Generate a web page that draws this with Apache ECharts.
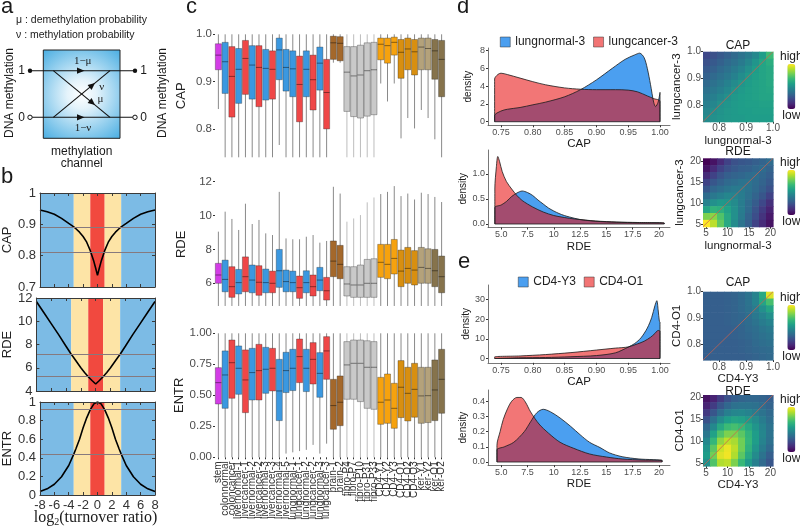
<!DOCTYPE html>
<html><head><meta charset="utf-8">
<script src="https://cdn.jsdelivr.net/npm/echarts@6.0.0/dist/echarts.min.js"></script>
<style>html,body{margin:0;padding:0;background:#fff;}#chart{width:800px;height:526px;}</style>
</head><body><div id="chart"></div>
<script>
// ================= DATA =================
// ---- panel b ----
const turnoverX = [-8,-7,-6,-5,-4,-3.3,-3,-2.5,-2,-1.5,-1,-0.5,-0.25,0,0.25,0.5,1,1.5,2,2.5,3,3.3,4,5,6,7,8];
const capCurve  = [0.946,0.940,0.932,0.919,0.903,0.892,0.886,0.875,0.861,0.843,0.816,0.781,0.760,0.737,0.760,0.781,0.816,0.843,0.861,0.875,0.886,0.892,0.903,0.919,0.932,0.940,0.946];
const rdeCurve  = [11.7,10.75,9.8,8.85,7.85,7.16,6.9,6.45,6.0,5.6,5.23,4.9,4.75,4.6,4.75,4.9,5.23,5.6,6.0,6.45,6.9,7.16,7.85,8.85,9.8,10.75,11.7];
const entrCurve = [0.037,0.066,0.116,0.196,0.317,0.44,0.497,0.6,0.722,0.83,0.918,0.98,0.995,1.0,0.995,0.98,0.918,0.83,0.722,0.6,0.497,0.44,0.317,0.196,0.116,0.066,0.037];
const bandFrom = [-8,-3.3,-1,1,3.3];
const bandTo   = [-3.3,-1,1,3.3,8];
const bandKind = ['low','mid','high','mid','low'];
const capRefs  = [0.892,0.81];
const rdeRefs  = [7.16,5.23];
const entrRefs = [0.92,0.438];

// ---- panel c ----
const cNames = ['stem','colonnormal','coloncancer','livernormal-1','livercancer-1','livernormal-2','livercancer-2','livernormal-3','livercancer-3','livernormal-4','livernormal-5','lungnormal-1','lungcancer-1','lungnormal-2','lungcancer-2','lungnormal-3','lungcancer-3','brain-1','brain-2','fibro-P4','fibro-P7','fibro-P10','fibro-P31','fibro-P33','CD4-Y1','CD4-Y2','CD4-Y3','CD4-O1','CD4-O2','CD4-O3','ker-Y1','ker-Y2','ker-O1','ker-O2'];
const cGroups = ['stem','normal','cancer','normal','cancer','normal','cancer','normal','cancer','normal','normal','normal','cancer','normal','cancer','normal','cancer','brain','brain','fibro','fibro','fibro','fibro','fibro','cd4y','cd4y','cd4y','cd4o','cd4o','cd4o','kery','kery','kero','kero'];
const capLow  = [0.842,0.74,0.74,0.74,0.74,0.74,0.74,0.74,0.74,0.766,0.74,0.74,0.74,0.74,0.74,0.74,0.74,0.94,0.94,0.74,0.74,0.74,0.74,0.74,0.896,0.858,0.896,0.780,0.823,0.801,0.840,0.823,0.778,0.74];
const capQ1   = [0.925,0.875,0.825,0.854,0.873,0.863,0.847,0.861,0.863,0.904,0.880,0.868,0.815,0.868,0.840,0.882,0.800,0.947,0.944,0.837,0.826,0.823,0.827,0.830,0.946,0.939,0.956,0.907,0.925,0.914,0.925,0.925,0.905,0.868];
const capMed  = [0.956,0.942,0.911,0.926,0.949,0.935,0.930,0.928,0.926,0.967,0.930,0.927,0.894,0.926,0.904,0.939,0.877,0.982,0.981,0.920,0.912,0.914,0.923,0.925,0.979,0.976,0.983,0.962,0.969,0.963,0.973,0.970,0.965,0.947];
const capQ3   = [0.980,0.983,0.974,0.970,0.987,0.976,0.976,0.968,0.965,0.992,0.968,0.965,0.954,0.965,0.956,0.973,0.947,0.996,0.995,0.974,0.974,0.977,0.982,0.983,0.992,0.992,0.994,0.989,0.992,0.989,0.992,0.992,0.989,0.987];
const capHigh = [1,1,1,1,1,1,1,1,1,1,1,1,1,1,1,1,1,1,1,1,1,1,1,1,1,1,1,1,1,1,1,1,1,1];
const rdeLow  = [4.66,4.66,4.66,4.66,4.66,4.66,4.66,4.66,4.66,4.66,4.66,4.66,4.66,4.66,4.66,4.66,4.66,4.66,4.66,4.66,4.66,4.66,4.66,4.66,4.66,4.66,4.66,4.66,4.66,4.66,4.66,4.66,4.66,4.66];
const rdeQ1   = [6.0,5.5,5.17,5.37,5.5,5.44,5.29,5.44,5.44,5.76,5.5,5.5,5.11,5.44,5.25,5.56,5.01,6.39,6.27,5.25,5.17,5.17,5.17,5.17,6.35,6.27,6.55,5.8,6.0,5.9,6.0,6.0,5.8,5.44];
const rdeMed  = [6.49,6.23,5.8,6.04,6.39,6.19,6.06,6.04,6.0,6.74,6.1,6.04,5.74,6.04,5.8,6.19,5.56,7.31,7.12,5.96,5.9,5.9,6.0,6.0,7.24,7.12,7.47,6.72,6.88,6.78,6.94,6.88,6.74,6.39];
const rdeQ3   = [7.18,7.37,6.98,6.82,7.56,7.08,7.04,6.84,6.72,8.0,6.78,6.72,6.43,6.74,6.49,6.94,6.35,8.5,8.24,6.98,6.98,7.08,7.41,7.45,8.3,8.3,8.59,7.96,8.12,7.93,8.12,8.04,8.0,7.61];
const rdeHigh = [9.05,10.23,9.8,9.15,10.7,9.5,9.74,8.95,8.85,11.4,8.65,8.6,8.6,8.75,8.85,8.4,8.5,11.7,11.3,9.64,9.83,10.03,10.78,11.07,11.27,11.4,11.74,11.15,11.3,10.95,11.35,11.27,11.1,10.8];
const entrLow  = [0,0,0,0,0,0,0,0,0,0,0.03,0.04,0.05,0.06,0.1,0.03,0.11,0,0,0,0,0,0,0,0,0,0,0,0,0,0,0,0,0];
const entrQ1   = [0.430,0.395,0.476,0.508,0.360,0.462,0.462,0.516,0.535,0.296,0.522,0.538,0.602,0.530,0.591,0.484,0.629,0.226,0.255,0.468,0.468,0.449,0.395,0.387,0.266,0.274,0.234,0.320,0.293,0.323,0.274,0.280,0.296,0.355];
const entrMed  = [0.602,0.664,0.763,0.718,0.624,0.683,0.699,0.710,0.718,0.535,0.699,0.718,0.812,0.718,0.790,0.677,0.858,0.417,0.444,0.745,0.758,0.758,0.726,0.726,0.444,0.462,0.395,0.565,0.516,0.548,0.495,0.497,0.543,0.629];
const entrQ3   = [0.723,0.858,0.946,0.898,0.866,0.879,0.911,0.887,0.879,0.790,0.847,0.871,0.954,0.871,0.925,0.844,0.973,0.629,0.656,0.933,0.946,0.946,0.940,0.933,0.645,0.672,0.597,0.780,0.726,0.758,0.726,0.726,0.785,0.871];
const entrHigh = [1,1,1,1,1,1,1,1,1,1,1,1,1,1,1,1,1,1,1,1,1,1,1,1,1,1,1,1,1,1,1,1,1,1];

// ---- panel d: densities ----
const dCapNormal = [[0.74,0],[0.74,0.7],[0.75,1.2],[0.76,1.4],[0.78,1.6],[0.80,1.9],[0.82,2.2],[0.85,2.8],[0.875,3.6],[0.90,4.7],[0.925,6.0],[0.945,7.0],[0.96,7.5],[0.968,7.7],[0.975,7.2],[0.98,6.0],[0.985,4.2],[0.99,2.2],[0.993,1.7],[0.997,2.2],[1.0,3.3],[1.0,0]];
const dCapCancer = [[0.74,0],[0.74,4.8],[0.745,5.3],[0.75,5.45],[0.76,5.3],[0.78,4.9],[0.80,4.5],[0.82,4.15],[0.85,3.8],[0.875,3.65],[0.90,3.6],[0.93,3.6],[0.95,3.55],[0.965,3.35],[0.98,2.9],[0.99,2.6],[1.0,2.3],[1.0,0]];
const dRdeNormal = [[4.4,0],[4.4,0.33],[5.0,0.38],[5.5,0.45],[6.0,0.55],[6.5,0.62],[7.0,0.66],[7.5,0.63],[8.0,0.57],[8.5,0.48],[9.0,0.4],[9.5,0.32],[10.0,0.26],[10.5,0.21],[11.0,0.17],[11.5,0.14],[12.5,0.09],[14.0,0.055],[16.0,0.035],[18.0,0.025],[20.5,0.02],[20.5,0]];
const dRdeCancer = [[4.4,0],[4.4,0.7],[4.55,1.15],[4.68,1.35],[4.85,1.25],[5.1,1.05],[5.5,0.85],[6.0,0.7],[6.5,0.57],[7.0,0.47],[8.0,0.34],[9.0,0.24],[10.0,0.17],[11.0,0.13],[12.0,0.1],[14.0,0.06],[16.0,0.04],[18.0,0.03],[20.5,0.02],[20.5,0]];
// ---- panel e: densities ----
const eCapY3 = [[0.74,0],[0.74,0.3],[0.78,0.35],[0.82,0.5],[0.86,0.9],[0.90,1.5],[0.93,2.9],[0.95,5.8],[0.96,7.6],[0.97,10.5],[0.98,15.5],[0.987,21],[0.992,27],[0.995,29.5],[0.997,25],[0.999,19],[1.0,18.5],[1.0,0]];
const eCapO1 = [[0.74,0],[0.74,0.8],[0.78,1.3],[0.82,2.0],[0.86,3.0],[0.90,4.3],[0.93,5.3],[0.95,5.9],[0.965,7.5],[0.975,8.8],[0.985,10.8],[0.992,12.8],[0.996,14.2],[0.998,14.3],[1.0,13.8],[1.0,0]];
const eRdeY3 = [[4.6,0],[4.6,0.08],[5.3,0.1],[6.2,0.13],[7.2,0.2],[7.8,0.265],[8.4,0.325],[9.0,0.347],[9.7,0.33],[10.6,0.29],[11.6,0.235],[12.5,0.18],[13.4,0.13],[14.4,0.095],[15.3,0.06],[16.5,0.035],[18.1,0.02],[20.3,0.01],[20.3,0]];
const eRdeO1 = [[4.6,0],[4.6,0.11],[4.9,0.2],[5.2,0.28],[5.6,0.35],[6.0,0.4],[6.5,0.425],[6.9,0.425],[7.3,0.395],[7.8,0.33],[8.6,0.25],[9.5,0.19],[10.6,0.13],[11.9,0.09],[13.4,0.053],[15.0,0.033],[16.5,0.02],[18.5,0.013],[20.3,0.01],[20.3,0]];

// ---- heatmaps (rows: top = high y, columns: low x -> high x; relative density level 0..1) ----
const capBins = [0.753,0.779,0.805,0.831,0.857,0.883,0.909,0.935,0.961,0.987];
const rdeBins = [5.115,6.745,8.375,10.005,11.635,13.265,14.895,16.525,18.155,19.785];
const dCapHeat = [
 [0.22,0.25,0.28,0.31,0.34,0.38,0.42,0.47,0.55,0.68],
 [0.25,0.28,0.31,0.34,0.37,0.41,0.46,0.52,0.58,0.62],
 [0.28,0.31,0.34,0.37,0.41,0.45,0.50,0.55,0.58,0.60],
 [0.31,0.34,0.37,0.40,0.44,0.49,0.53,0.56,0.58,0.60],
 [0.34,0.37,0.40,0.44,0.48,0.52,0.55,0.57,0.58,0.60],
 [0.37,0.40,0.43,0.47,0.51,0.54,0.56,0.57,0.58,0.59],
 [0.40,0.43,0.47,0.50,0.53,0.55,0.56,0.57,0.58,0.58],
 [0.43,0.46,0.50,0.52,0.54,0.55,0.56,0.56,0.57,0.57],
 [0.46,0.49,0.51,0.53,0.54,0.55,0.55,0.56,0.56,0.56],
 [0.48,0.50,0.52,0.53,0.54,0.54,0.55,0.55,0.55,0.55]];
const dRdeHeat = [
 [0.00,0.05,0.12,0.20,0.25,0.27,0.28,0.30,0.32,0.35],
 [0.05,0.12,0.20,0.25,0.28,0.30,0.31,0.33,0.35,0.32],
 [0.12,0.20,0.26,0.30,0.32,0.33,0.35,0.36,0.33,0.30],
 [0.20,0.27,0.31,0.34,0.36,0.38,0.38,0.35,0.32,0.28],
 [0.27,0.33,0.36,0.39,0.41,0.41,0.38,0.34,0.30,0.25],
 [0.35,0.40,0.43,0.46,0.45,0.42,0.37,0.32,0.27,0.20],
 [0.45,0.50,0.53,0.52,0.48,0.42,0.35,0.29,0.22,0.14],
 [0.58,0.65,0.63,0.57,0.50,0.42,0.34,0.26,0.18,0.10],
 [0.80,0.82,0.72,0.60,0.50,0.41,0.32,0.24,0.15,0.07],
 [1.00,0.90,0.75,0.60,0.48,0.38,0.30,0.20,0.12,0.05]];
const eCapHeat = [
 [0.30,0.30,0.30,0.31,0.32,0.34,0.38,0.45,0.60,0.95],
 [0.30,0.30,0.30,0.31,0.32,0.34,0.38,0.45,0.58,0.70],
 [0.30,0.30,0.30,0.31,0.32,0.34,0.37,0.42,0.50,0.58],
 [0.30,0.30,0.30,0.31,0.32,0.33,0.36,0.40,0.45,0.50],
 [0.30,0.30,0.30,0.31,0.32,0.33,0.35,0.38,0.42,0.45],
 [0.30,0.30,0.30,0.30,0.31,0.32,0.34,0.36,0.39,0.41],
 [0.30,0.30,0.30,0.30,0.31,0.32,0.33,0.35,0.37,0.39],
 [0.30,0.30,0.30,0.30,0.30,0.31,0.32,0.34,0.36,0.37],
 [0.30,0.30,0.30,0.30,0.30,0.31,0.32,0.33,0.34,0.35],
 [0.30,0.30,0.30,0.30,0.30,0.30,0.31,0.32,0.33,0.34]];
const eRdeHeat = [
 [0.05,0.10,0.18,0.25,0.30,0.32,0.33,0.33,0.32,0.30],
 [0.10,0.18,0.27,0.33,0.37,0.38,0.38,0.37,0.35,0.32],
 [0.17,0.27,0.36,0.43,0.46,0.47,0.45,0.42,0.38,0.34],
 [0.25,0.37,0.48,0.55,0.58,0.57,0.53,0.48,0.42,0.36],
 [0.33,0.47,0.60,0.68,0.70,0.67,0.60,0.52,0.45,0.38],
 [0.40,0.57,0.72,0.80,0.80,0.74,0.65,0.55,0.46,0.38],
 [0.47,0.66,0.83,0.90,0.87,0.78,0.66,0.55,0.45,0.37],
 [0.52,0.74,0.92,0.97,0.90,0.78,0.64,0.52,0.42,0.34],
 [0.55,0.78,0.95,0.98,0.88,0.74,0.60,0.48,0.38,0.30],
 [0.50,0.72,0.88,0.90,0.80,0.67,0.54,0.43,0.34,0.27]];

// ================= STYLE =================
const FONT = '"Liberation Sans", Arial, Helvetica, sans-serif';
const SERIF = '"Liberation Serif", "Times New Roman", serif';
const BAND_COLORS = {low:'#7cbbe5', mid:'#fde4a6', high:'#f1493f'};
const GROUP_COLORS = {stem:'#d33de6', normal:'#3b98e0', cancer:'#ef4747', brain:'#a4682b', fibro:'#c9c9c9', cd4y:'#f6a20e', cd4o:'#d88f10', kery:'#b4a27b', kero:'#86734c'};
const VIRIDIS = ['#440154','#482878','#3e4989','#31688e','#26828e','#1f9e89','#35b779','#6ece58','#b5de2b','#fde725'];
const BLUE_FILL = '#4b9ff0', RED_FILL = 'rgb(232,10,10)', RED_ALPHA = 0.56, RED_LEGEND = '#f27474';

const option = {animation:false, textStyle:{fontFamily:FONT}, grid:[], xAxis:[], yAxis:[], series:[], visualMap:[], legend:[], graphic:[]};

// ================= PANEL b =================
const bPanels = [
  {name:'CAP', top:193, h:94, min:0.7, max:1, step:0.1, vals:capCurve, refs:capRefs},
  {name:'RDE', top:298, h:93, min:4, max:12, step:2, vals:rdeCurve, refs:rdeRefs},
  {name:'ENTR', top:402, h:93, min:0, max:1, step:0.2, vals:entrCurve, refs:entrRefs}
];
bPanels.forEach((p,k)=>{
  const gi = option.grid.length;
  option.grid.push({left:36, top:p.top, width:119, height:p.h});
  const ls = {color:'#3a3a3a', width:1};
  const xi = option.xAxis.length;
  ['bottom','top'].forEach(pos=>option.xAxis.push({type:'value', gridIndex:gi, min:-8, max:8, interval:2, z:10, position:pos,
    axisLine:{show:true, onZero:false, lineStyle:ls}, axisTick:{show:true, inside:true, length:3, lineStyle:ls},
    axisLabel:{show:(k===2 && pos==='bottom'), fontSize:13, color:'#333', margin:4, showMinLabel:true, showMaxLabel:true},
    splitLine:{show:false}}));
  const yi = option.yAxis.length;
  ['left','right'].forEach(pos=>option.yAxis.push({type:'value', gridIndex:gi, min:p.min, max:p.max, interval:p.step, z:10, position:pos,
    name: pos==='left'? p.name : '', nameLocation:'middle', nameRotate:90, nameGap:21, nameTextStyle:{fontSize:13, color:'#222'},
    axisLine:{show:true, onZero:false, lineStyle:ls}, axisTick:{show:true, inside:true, length:3, lineStyle:ls},
    axisLabel:{show:pos==='left', fontSize:13, color:'#333', margin:4, showMinLabel:true, showMaxLabel:true, formatter:v=>String(+(+v).toFixed(2))},
    splitLine:{show:false}}));
  option.series.push({type:'custom', xAxisIndex:xi, yAxisIndex:yi, silent:true, z:1,
    data: bandFrom.map((f,i)=>[f, bandTo[i]]),
    renderItem:(params, api)=>{
      const a = api.coord([api.value(0), p.max]);
      const b = api.coord([api.value(1), p.min]);
      return {type:'rect', shape:{x:a[0], y:a[1], width:b[0]-a[0], height:b[1]-a[1]}, style:{fill:BAND_COLORS[bandKind[params.dataIndex]]}};
    }});
  option.series.push({type:'line', xAxisIndex:xi, yAxisIndex:yi, silent:true, z:3, symbol:'none', showSymbol:false,
    data: turnoverX.map((x,i)=>[x, p.vals[i]]), lineStyle:{color:'#000', width:1.6},
    markLine:{silent:true, symbol:['none','none'], label:{show:false}, lineStyle:{color:'#86797e', width:1.2, type:'solid'},
      data: p.refs.map(v=>({yAxis:v}))}});
});

// ================= PANEL c =================
const cPanels = [
  {name:'CAP', top:34.3, h:123, min:0.74, max:1.0, ticks:[0.8,0.9,1.0], fmt:v=>(+v).toFixed(1), s:[capLow,capQ1,capMed,capQ3,capHigh]},
  {name:'RDE', top:181.7, h:125.3, min:4.6, max:12, ticks:[6,8,10,12], fmt:v=>String(v), s:[rdeLow,rdeQ1,rdeMed,rdeQ3,rdeHigh]},
  {name:'ENTR', top:333.3, h:124, min:0, max:1, ticks:[0,0.25,0.5,0.75,1], fmt:v=>(+v).toFixed(2), s:[entrLow,entrQ1,entrMed,entrQ3,entrHigh]}
];
cPanels.forEach((p,k)=>{
  const gi = option.grid.length;
  option.grid.push({left:215, top:p.top, width:230, height:p.h});
  const xi = option.xAxis.length;
  option.xAxis.push({type:'category', gridIndex:gi, data:cNames, show:k===2, boundaryGap:true,
    axisLine:{show:false}, axisTick:{show:true, length:2, alignWithLabel:true, lineStyle:{color:'#333'}},
    axisLabel:{rotate:90, interval:0, fontSize:10, color:'#333', margin:4}, splitLine:{show:false}});
  const yi = option.yAxis.length;
  option.yAxis.push({type:'value', gridIndex:gi, min:p.min, max:p.max, name:p.name, nameLocation:'middle', nameRotate:90, nameGap:27,
    nameTextStyle:{fontSize:13, color:'#222'}, axisLine:{show:false},
    axisTick:{show:true, length:2, customValues:p.ticks, lineStyle:{color:'#333'}},
    axisLabel:{fontSize:11.5, color:'#4d4d4d', margin:3, customValues:p.ticks, formatter:p.fmt}, splitLine:{show:false}});
  option.series.push({type:'custom', xAxisIndex:xi, yAxisIndex:yi, silent:true,
    encode:{x:0, y:[1,2,3,4,5]},
    data: cNames.map((n,i)=>[i, p.s[0][i], p.s[1][i], p.s[2][i], p.s[3][i], p.s[4][i]]),
    renderItem:(params, api)=>{
      const i = api.value(0);
      const lo = api.coord([i, api.value(1)]), q1 = api.coord([i, api.value(2)]), md = api.coord([i, api.value(3)]);
      const q3 = api.coord([i, api.value(4)]), hi = api.coord([i, api.value(5)]);
      const bw = api.size([1,0])[0]*0.9;
      const g = cGroups[i];
      const cx = lo[0];
      return {type:'group', children:[
        {type:'line', shape:{x1:cx, y1:lo[1], x2:cx, y2:hi[1]}, style:{stroke: g==='fibro'?'#bdbdbd':'#8a8a8a', lineWidth:1}},
        {type:'rect', shape:{x:cx-bw/2, y:q3[1], width:bw, height:q1[1]-q3[1]}, style:{fill:GROUP_COLORS[g], stroke:'rgba(30,30,30,0.55)', lineWidth:0.6}},
        {type:'line', shape:{x1:cx-bw/2, y1:md[1], x2:cx+bw/2, y2:md[1]}, style:{stroke:'rgba(0,0,0,0.55)', lineWidth:0.8}}
      ]};
    }});
});

// ================= PANELS d / e densities =================
function densityPanel(o){
  const gi = option.grid.length;
  option.grid.push({left:488, top:o.top, width:182, height:o.h});
  const xi = option.xAxis.length, yi = option.yAxis.length;
  const line = {show:true, onZero:false, lineStyle:{color:'#555', width:0.8}};
  option.xAxis.push({type:'value', gridIndex:gi, min:o.xmin, max:o.xmax, name:o.xname, nameLocation:'middle', nameGap:13,
    nameTextStyle:{fontSize:11.5, color:'#1a1a1a'}, axisLine:line,
    axisTick:{show:true, length:2, customValues:o.xticks, lineStyle:{color:'#333'}},
    axisLabel:{fontSize:9, color:'#4d4d4d', margin:3, customValues:o.xticks, formatter:o.xfmt}, splitLine:{show:false}});
  option.yAxis.push({type:'value', gridIndex:gi, min:o.ymin, max:o.ymax, name:'density', nameLocation:'middle', nameRotate:90, nameGap:15,
    nameTextStyle:{fontSize:10, color:'#1a1a1a'}, axisLine:line,
    axisTick:{show:true, length:2, customValues:o.yticks, lineStyle:{color:'#333'}},
    axisLabel:{fontSize:9, color:'#4d4d4d', margin:3, customValues:o.yticks, formatter:o.yfmt}, splitLine:{show:false}});
  o.curves.forEach(c=>{
    option.series.push({type:'line', name:c.name, xAxisIndex:xi, yAxisIndex:yi, data:c.data, smooth:0.3, symbol:'none', showSymbol:false,
      silent:true, lineStyle:{color:'#1a1a1a', width:0.8}, itemStyle:{color:c.fill}, areaStyle:{color:c.fill, opacity:c.alpha}});
  });
  const f = o.curves[0].data;
  option.series.push({type:'line', xAxisIndex:xi, yAxisIndex:yi, silent:true, symbol:'none', showSymbol:false,
    data:[[f[0][0],0],[f[f.length-1][0],0]], lineStyle:{color:'#1a1a1a', width:0.8}});
}
const capFmt = v=>(+v).toFixed(2);
const rdeFmt = v=>(v<10 || v%1!==0) ? (+v).toFixed(1) : String(v);
densityPanel({top:48, h:77.3, xmin:0.7296, xmax:1.0157, xticks:[0.75,0.8,0.85,0.9,0.95,1.0], xfmt:capFmt, xname:'CAP',
  ymin:-0.4, ymax:8.28, yticks:[0,2,4,6,8], yfmt:v=>String(v),
  curves:[{name:'lungnormal-3', data:dCapNormal, fill:BLUE_FILL, alpha:1},{name:'lungcancer-3', data:dCapCancer, fill:RED_FILL, alpha:RED_ALPHA}]});
densityPanel({top:150, h:77.5, xmin:3.75, xmax:21.05, xticks:[5,7.5,10,12.5,15,17.5,20], xfmt:rdeFmt, xname:'RDE',
  ymin:-0.07, ymax:1.48, yticks:[0,0.5,1.0], yfmt:v=>(+v).toFixed(1),
  curves:[{name:'lungnormal-3', data:dRdeNormal, fill:BLUE_FILL, alpha:1},{name:'lungcancer-3', data:dRdeCancer, fill:RED_FILL, alpha:RED_ALPHA}]});
densityPanel({top:285, h:77.8, xmin:0.7296, xmax:1.0157, xticks:[0.75,0.8,0.85,0.9,0.95,1.0], xfmt:capFmt, xname:'CAP',
  ymin:-2.2, ymax:37.5, yticks:[0,10,20,30], yfmt:v=>String(v),
  curves:[{name:'CD4-Y3', data:eCapY3, fill:BLUE_FILL, alpha:1},{name:'CD4-O1', data:eCapO1, fill:RED_FILL, alpha:RED_ALPHA}]});
densityPanel({top:390, h:75.2, xmin:3.75, xmax:21.05, xticks:[5,7.5,10,12.5,15,17.5,20], xfmt:rdeFmt, xname:'RDE',
  ymin:-0.021, ymax:0.474, yticks:[0,0.1,0.2,0.3,0.4], yfmt:v=>(+v).toFixed(1),
  curves:[{name:'CD4-Y3', data:eRdeY3, fill:BLUE_FILL, alpha:1},{name:'CD4-O1', data:eRdeO1, fill:RED_FILL, alpha:RED_ALPHA}]});

const legendBase = {orient:'horizontal', itemWidth:10, itemHeight:10, itemGap:8, icon:'rect', selectedMode:false,
  textStyle:{fontSize:12, color:'#222', fontFamily:FONT}};
option.legend.push(Object.assign({}, legendBase, {left:495, top:31,
  data:[{name:'lungnormal-3', itemStyle:{color:BLUE_FILL, borderColor:'#333', borderWidth:0.5}},{name:'lungcancer-3', itemStyle:{color:RED_LEGEND, borderColor:'#333', borderWidth:0.5}}]}));
option.legend.push(Object.assign({}, legendBase, {left:513, top:271,
  data:[{name:'CD4-Y3', itemStyle:{color:BLUE_FILL, borderColor:'#333', borderWidth:0.5}},{name:'CD4-O1', itemStyle:{color:RED_LEGEND, borderColor:'#333', borderWidth:0.5}}]}));

// ================= heatmaps =================
function heatPanel(o){
  const gi = option.grid.length;
  option.grid.push({left:o.left, top:o.top, width:o.w, height:o.h});
  const xi = option.xAxis.length, yi = option.yAxis.length;
  option.xAxis.push({type:'value', gridIndex:gi, min:o.min, max:o.max, name:o.xname, nameLocation:'middle', nameGap:11,
    nameTextStyle:{fontSize:11.5, color:'#1a1a1a'}, axisLine:{show:false},
    axisTick:{show:true, length:2, customValues:o.ticks, lineStyle:{color:'#333'}},
    axisLabel:{fontSize:10, color:'#4d4d4d', margin:2, customValues:o.ticks, formatter:o.fmt}, splitLine:{show:false}});
  option.yAxis.push({type:'value', gridIndex:gi, min:o.min, max:o.max, name:o.yname, nameLocation:'middle', nameRotate:90, nameGap:16,
    nameTextStyle:{fontSize:11.5, color:'#1a1a1a'}, axisLine:{show:false},
    axisTick:{show:true, length:2, customValues:o.ticks, lineStyle:{color:'#333'}},
    axisLabel:{fontSize:10, color:'#4d4d4d', margin:2, customValues:o.ticks, formatter:o.fmt}, splitLine:{show:false}});
  const data = [];
  const n = o.bins.length;
  o.matrix.forEach((row,r)=>row.forEach((v,c)=>data.push([o.bins[c], o.bins[n-1-r], v])));
  const hw = (o.bins[1]-o.bins[0])/2;
  const si = option.series.length;
  option.series.push({type:'custom', xAxisIndex:xi, yAxisIndex:yi, silent:true, encode:{x:0, y:1}, data:data,
    renderItem:(params, api)=>{
      const x = api.value(0), y = api.value(1);
      const a = api.coord([x-hw, y+hw]), b = api.coord([x+hw, y-hw]);
      return {type:'rect', shape:{x:a[0], y:a[1], width:b[0]-a[0]+0.6, height:b[1]-a[1]+0.6}, style:{fill:api.visual('color')}};
    }});
  option.series.push({type:'line', xAxisIndex:xi, yAxisIndex:yi, silent:true, symbol:'none', showSymbol:false, z:5,
    data:[[o.min,o.min],[o.max,o.max]], lineStyle:{color:'#c8634f', width:0.9, opacity:0.85}});
  option.visualMap.push({type:'continuous', seriesIndex:si, dimension:2, min:0, max:1, inRange:{color:VIRIDIS},
    text:['high','low'], textGap:1, itemWidth:8, itemHeight:45, left:780, top:o.vmTop, padding:0, calculable:false, hoverLink:false,
    orient:'vertical', textStyle:{fontSize:12, color:'#1a1a1a', fontFamily:FONT}});
  option.graphic.push({type:'text', x:o.left+o.w/2, y:o.titleY, style:{text:o.title, fontSize:12, fontFamily:FONT, fill:'#1a1a1a', align:'center', verticalAlign:'middle'}});
}
heatPanel({left:703, top:51.7, w:70, h:70, min:0.74, max:1.0, ticks:[0.8,0.9,1.0], fmt:v=>(+v).toFixed(1), bins:capBins, matrix:dCapHeat,
  xname:'lungnormal-3', yname:'lungcancer-3', title:'CAP', titleY:46, vmTop:51});
heatPanel({left:703, top:158.3, w:70, h:68.4, min:4.3, max:20.6, ticks:[5,10,15,20], fmt:v=>String(v), bins:rdeBins, matrix:dRdeHeat,
  xname:'lungnormal-3', yname:'lungcancer-3', title:'RDE', titleY:152, vmTop:157});
heatPanel({left:703, top:291.7, w:70, h:68.3, min:0.74, max:1.0, ticks:[0.8,0.9,1.0], fmt:v=>(+v).toFixed(1), bins:capBins, matrix:eCapHeat,
  xname:'CD4-Y3', yname:'CD4-O1', title:'CAP', titleY:283, vmTop:292});
heatPanel({left:703, top:395, w:70, h:71, min:4.3, max:20.6, ticks:[5,10,15,20], fmt:v=>String(v), bins:rdeBins, matrix:eRdeHeat,
  xname:'CD4-Y3', yname:'CD4-O1', title:'RDE', titleY:391.5, vmTop:394});

// ================= panel letters and panel a diagram =================
function txt(x,y,t,size,opt){ return Object.assign({type:'text', x:x, y:y, silent:true, style:Object.assign({text:t, fontSize:size, fontFamily:FONT, fill:'#1a1a1a', align:'center', verticalAlign:'middle'}, (opt&&opt.style)||{})}, (opt&&opt.el)||{}); }
[['a',1,7.4],['b',1,177.4],['c',186,7.4],['d',457,7.4],['e',458,262.4]].forEach(l=>option.graphic.push(txt(l[1],l[2],l[0],22,{style:{align:'left'}})));

const boxFill = new echarts.graphic.RadialGradient(0.5,0.5,0.75,[{offset:0,color:'#ffffff'},{offset:0.25,color:'#e4f3fb'},{offset:1,color:'#4aaee2'}]);
const G = option.graphic;
G.push(txt(16,20,'\u03bc : demethylation probability',10.5,{style:{align:'left'}}));
G.push(txt(16,35,'\u03bd : methylation probability',10.5,{style:{align:'left'}}));
G.push({type:'rect', silent:true, shape:{x:43.3, y:50, width:76.7, height:88.3}, style:{fill:boxFill, stroke:'#222', lineWidth:1}});
const L = (x1,y1,x2,y2)=>({type:'line', silent:true, shape:{x1,y1,x2,y2}, style:{stroke:'#111', lineWidth:1.1}});
G.push(L(30,70.7,135,70.7)); G.push(L(30,117.3,135,117.3)); G.push(L(53.3,117.3,110,70.7)); G.push(L(53.3,70.7,110,117.3));
const P = pts=>({type:'polygon', silent:true, shape:{points:pts}, style:{fill:'#111'}});
G.push(P([[77,67.6],[84.5,70.7],[77,73.8]]));
G.push(P([[77,114.2],[84.5,117.3],[77,120.4]]));
G.push(P([[95,83],[87.6,84.9],[91.6,89.9]]));
G.push(P([[95,105],[87.6,103.1],[91.6,98.1]]));
G.push({type:'circle', silent:true, shape:{cx:30, cy:70.7, r:2.2}, style:{fill:'#111'}});
G.push({type:'circle', silent:true, shape:{cx:135, cy:70.7, r:2.2}, style:{fill:'#111'}});
G.push({type:'circle', silent:true, shape:{cx:30, cy:117.3, r:2.2}, style:{fill:'#fff', stroke:'#111', lineWidth:1}});
G.push({type:'circle', silent:true, shape:{cx:135, cy:117.3, r:2.2}, style:{fill:'#fff', stroke:'#111', lineWidth:1}});
G.push(txt(21.5,71,'1',12)); G.push(txt(143.5,71,'1',12));
G.push(txt(21.5,117.5,'0',12)); G.push(txt(143.5,117.5,'0',12));
G.push(txt(82.7,61.5,'1\u2212\u03bc',11,{style:{fontFamily:SERIF}}));
G.push(txt(83,128.3,'1\u2212\u03bd',11,{style:{fontFamily:SERIF}}));
G.push(txt(101.7,87.5,'\u03bd',11,{style:{fontFamily:SERIF}}));
G.push(txt(100.5,99.5,'\u03bc',11,{style:{fontFamily:SERIF}}));
G.push(txt(10,93,'DNA methylation',12,{el:{rotation:Math.PI/2}}));
G.push(txt(162.5,93,'DNA methylation',12,{el:{rotation:Math.PI/2}}));
G.push(txt(81.7,151.7,'methylation',12)); G.push(txt(81.7,163.3,'channel',12));
// panel b x title
G.push({type:'text', x:95.5, y:518, silent:true, style:{text:'{a|log}{s|2}{a|(turnover ratio)}', align:'center', verticalAlign:'middle',
  rich:{a:{fontFamily:SERIF, fontSize:16, fill:'#1a1a1a', verticalAlign:'middle'}, s:{fontFamily:SERIF, fontSize:10, fill:'#1a1a1a', padding:[9,0,0,0]}}}});

const chart = echarts.init(document.getElementById('chart'), null, {renderer:'canvas', width:800, height:526});
chart.setOption(option);
</script></body></html>
